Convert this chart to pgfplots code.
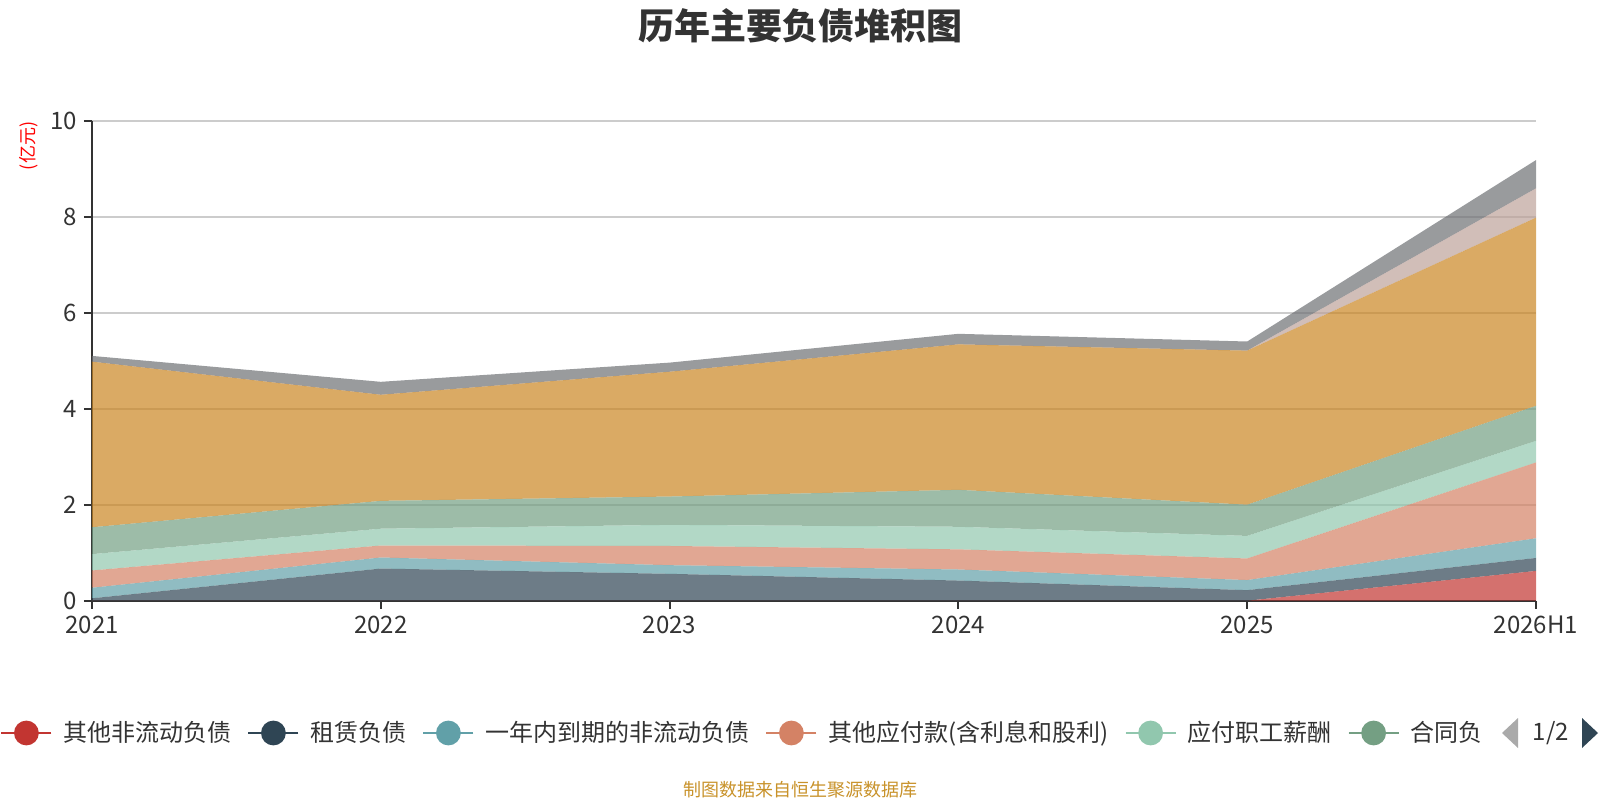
\documentclass[border=0pt]{standalone}
\usepackage{fontspec}
\setmainfont{Noto Sans CJK SC}
\usepackage{pgfplots}
\usepackage{pgfplotstable}
\pgfplotsset{compat=1.18}
\definecolor{c1}{HTML}{C23531}
\definecolor{c2}{HTML}{2F4554}
\definecolor{c3}{HTML}{61A0A8}
\definecolor{c4}{HTML}{D48265}
\definecolor{c5}{HTML}{91C7AE}
\definecolor{c6}{HTML}{749F83}
\definecolor{c7}{HTML}{CA8622}
\definecolor{c8}{HTML}{BDA29A}
\definecolor{c9}{HTML}{6E7074}
\definecolor{c333}{HTML}{333333}
\definecolor{gridc}{HTML}{CCCCCC}
\definecolor{footc}{HTML}{C8922A}
\definecolor{pagerg}{HTML}{AAAAAA}

\pgfplotstableread{
x red dark teal salmon mint green gold pink gray
0 0    0.05 0.22 0.36 0.34 0.56 3.45 0    0.12
1 0    0.67 0.23 0.25 0.35 0.58 2.21 0    0.27
2 0    0.56 0.18 0.40 0.44 0.59 2.60 0    0.19
3 0    0.42 0.23 0.42 0.47 0.77 3.03 0    0.22
4 0    0.22 0.21 0.45 0.47 0.65 3.21 0    0.19
5 0.62 0.27 0.41 1.58 0.45 0.73 3.92 0.61 0.59
}\datatable

\pgfplotsset{
  legimg/.style={legend image code/.code={
    \draw[draw=#1,line width=1pt,opacity=1] (0pt,0pt) -- (25pt,0pt);
    \fill[fill=#1,opacity=1] (12.5pt,0pt) circle (6.2pt);}},
  area/.style={fill=#1, fill opacity=0.7, draw=none, legimg=#1},
}

\begin{document}
\begin{tikzpicture}
\useasboundingbox (0,0) rectangle (800pt,400pt);
\begin{axis}[
  at={(46pt,99.65pt)}, anchor=south west,
  scale only axis, width=722pt, height=240pt,
  xmin=0, xmax=5, ymin=0, ymax=10,
  xtick={0,1,2,3,4,5},
  xticklabels={2021,2022,2023,2024,2025,2026H1},
  ytick={0,2,4,6,8,10},
  axis x line*=bottom, axis y line*=left,
  axis line style={color=c333, line width=1pt},
  tick align=outside, major tick length=4pt,
  tick style={color=c333, line width=1pt},
  ymajorgrids, grid style={color=gridc, line width=1pt},
  tick label style={font=\fontsize{12}{14}\selectfont, text=c333},
  /pgf/number format/assume math mode=true,
  stack plots=y,
  legend columns=-1,
  legend style={draw=none, fill=none, inner sep=0pt,
    at={(axis description cs:-0.0637,-0.2756)}, anchor=west,
    font=\fontsize{12}{14}\selectfont, text=c333,
    nodes={inner xsep=0pt, inner ysep=1pt},
    /tikz/every odd column/.append style={column sep=5.5pt},
    /tikz/every even column/.append style={column sep=8pt}},
]
\addplot[area=c1] table[x=x,y=red]{\datatable} \closedcycle;
\addplot[area=c2] table[x=x,y=dark]{\datatable} \closedcycle;
\addplot[area=c3] table[x=x,y=teal]{\datatable} \closedcycle;
\addplot[area=c4] table[x=x,y=salmon]{\datatable} \closedcycle;
\addplot[area=c5] table[x=x,y=mint]{\datatable} \closedcycle;
\addplot[area=c6] table[x=x,y=green]{\datatable} \closedcycle;
\addplot[area=c7] table[x=x,y=gold]{\datatable} \closedcycle;
\addplot[area=c8] table[x=x,y=pink]{\datatable} \closedcycle;
\addplot[area=c9] table[x=x,y=gray]{\datatable} \closedcycle;
\legend{其他非流动负债,租赁负债,一年内到期的非流动负债,其他应付款(含利息和股利),应付职工薪酬,合同负}
\end{axis}
\node[font=\fontsize{18}{20}\selectfont\bfseries, text=c333] at (400pt,387.25pt) {历年主要负债堆积图};
\node[font=\fontsize{9}{10}\selectfont, text=red, rotate=90] at (14.5pt,327pt) {(亿元)};
\node[font=\fontsize{9}{10}\selectfont, text=footc] at (400pt,5pt) {制图数据来自恒生聚源数据库};
\fill[pagerg] (751pt,33.5pt) -- (759pt,41pt) -- (759pt,26pt) -- cycle;
\node[font=\fontsize{12}{14}\selectfont, text=c333] at (775.5pt,33.5pt) {1/2};
\fill[c2] (799pt,33.5pt) -- (791pt,41pt) -- (791pt,26pt) -- cycle;
\end{tikzpicture}
\end{document}
